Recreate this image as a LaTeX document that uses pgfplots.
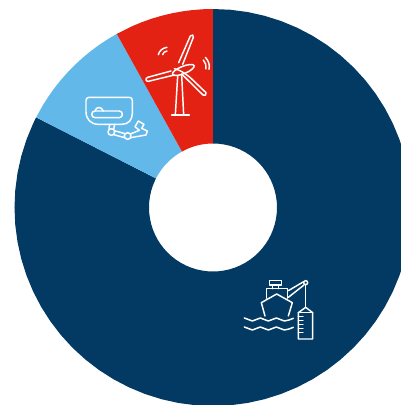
\documentclass[border=0pt]{standalone}
\usepackage{pgfplots}
\pgfplotsset{compat=1.18}
\definecolor{navyseg}{HTML}{033A63}
\definecolor{skyseg}{HTML}{63B8EA}
\definecolor{redseg}{HTML}{E32213}
\begin{document}
\begin{tikzpicture}
\path[use as bounding box] (0,0) rectangle (300.75pt,303.75pt);
\begin{axis}[
  at={(0,0)}, anchor=south west,
  width=300.75pt, height=303.75pt, scale only axis,
  xmin=-213, xmax=188, ymin=-197.5, ymax=207.5,
  hide axis, clip=true,
]
% ring segments given as (angle, radius)
\addplot[fill=navyseg, draw=none, data cs=polar] coordinates {
 (153,198.5)(155,198.5)(160,198.5)(165,198.5)(170,198.5)(175,198.5)(180,198.5)(185,198.5)(190,198.5)(195,198.5)
 (200,198.5)(205,198.5)(210,198.5)(215,198.5)(220,198.5)(225,198.5)(230,198.5)(235,198.5)(240,198.5)(245,198.5)
 (250,198.5)(255,198.5)(260,198.5)(265,198.5)(270,198.5)(275,198.5)(280,198.5)(285,198.5)(290,198.5)(295,198.5)
 (300,198.5)(305,198.5)(310,198.5)(315,198.5)(320,198.5)(325,198.5)(330,198.5)(335,198.5)(340,198.5)(345,198.5)
 (350,198.5)(355,198.5)(360,198.5)(365,198.5)(370,198.5)(375,198.5)(380,198.5)(385,198.5)(390,198.5)(395,198.5)
 (400,198.5)(405,198.5)(410,198.5)(415,198.5)(420,198.5)(425,198.5)(430,198.5)(435,198.5)(440,198.5)(445,198.5)(450,198.5)
 (450,64)(445,64)(440,64)(435,64)(430,64)(425,64)(420,64)(415,64)(410,64)(405,64)(400,64)
 (395,64)(390,64)(385,64)(380,64)(375,64)(370,64)(365,64)(360,64)(355,64)(350,64)
 (345,64)(340,64)(335,64)(330,64)(325,64)(320,64)(315,64)(310,64)(305,64)(300,64)
 (295,64)(290,64)(285,64)(280,64)(275,64)(270,64)(265,64)(260,64)(255,64)(250,64)
 (245,64)(240,64)(235,64)(230,64)(225,64)(220,64)(215,64)(210,64)(205,64)(200,64)
 (195,64)(190,64)(185,64)(180,64)(175,64)(170,64)(165,64)(160,64)(155,64)(153,64)
} -- cycle;
\addplot[fill=skyseg, draw=none, data cs=polar] coordinates {
 (119,198.5)(122,198.5)(125,198.5)(128,198.5)(131,198.5)(134,198.5)(137,198.5)(140,198.5)(143,198.5)(146,198.5)(149,198.5)(153,198.5)
 (153,64)(149,64)(146,64)(143,64)(140,64)(137,64)(134,64)(131,64)(128,64)(125,64)(122,64)(119,64)
} -- cycle;
\addplot[fill=redseg, draw=none, data cs=polar] coordinates {
 (90,198.5)(93,198.5)(96,198.5)(99,198.5)(102,198.5)(105,198.5)(108,198.5)(111,198.5)(114,198.5)(119,198.5)
 (119,64)(114,64)(111,64)(108,64)(105,64)(102,64)(99,64)(96,64)(93,64)(90,64)
} -- cycle;
\end{axis}

% wind turbine
\begin{scope}[shift={(0.75*130pt,303.75pt-0.75*20pt)},x=0.25pt,y=-0.25pt,draw=white,line width=1.1pt,line join=round,line cap=round]
  \draw (146,128) -- (181,48) .. controls (185,42) and (193,45) .. (190,52) -- (158,133);
  \draw (123,153) -- (53,172) .. controls (45,175) and (47,185) .. (55,184) -- (133,165);
  \draw[rotate around={22:(160,150)}] (160,150) ellipse (35 and 11);
  \draw (133,146) .. controls (150,150) and (165,160) .. (180,172) -- (228,218) .. controls (231,225) and (224,229) .. (219,225) -- (155,162);
  \draw (143,168) -- (136,285);
  \draw (155,165) -- (161,285);
  \draw (125,285) -- (178,285);
  \draw (85,104) .. controls (88,92) and (98,84) .. (111,82);
  \draw (98,104) .. controls (99,98) and (104,94) .. (111,93);
  \draw (220,120) .. controls (227,127) and (229,137) .. (228,147);
  \draw (226,112) .. controls (236,122) and (240,135) .. (237,148);
\end{scope}

% remotely operated vehicle
\begin{scope}[shift={(0.75*70pt,303.75pt-0.75*85pt)},x=0.25pt,y=-0.25pt,draw=white,line width=1.1pt,line join=round,line cap=round]
  \draw (57,37) -- (178,37) .. controls (184,37) and (187,41) .. (187,47) -- (187,85)
        .. controls (187,105) and (175,118) .. (155,118) -- (85,118)
        .. controls (62,118) and (48,102) .. (48,80) -- (48,47) .. controls (48,41) and (51,37) .. (57,37) -- cycle;
  \draw (75,78) -- (148,78) .. controls (160,78) and (160,98) .. (148,98) -- (75,98) .. controls (62,98) and (62,78) .. (75,78) -- cycle;
  \draw (75,78) .. controls (78,64) and (95,64) .. (100,78);
  \draw (119,118) -- (117,131);
  \draw (134,118) -- (131,133);
  \draw (124,141) circle (10);
  \draw (173,153) circle (10);
  \draw (133,137) -- (165,146);
  \draw (131,149) -- (164,158);
  \draw (181,147) -- (208,136);
  \draw (182,158) -- (228,150) -- (232,138) -- (215,130) -- (222,118) -- (205,108) -- (195,125) -- (208,136);
\end{scope}

% survey vessel with crane and buoy
\begin{scope}[shift={(0.75*235pt,303.75pt-0.75*270pt)},x=0.25pt,y=-0.25pt,draw=white,line width=1.1pt,line join=round,line cap=round]
  \draw (103,31) rectangle (140,45);
  \draw (113,45) -- (113,56); \draw (130,45) -- (130,56);
  \draw (94,85) -- (94,56) -- (157,56) -- (157,85);
  \draw (90,138) -- (79,98) -- (125,72) -- (172,98) -- (160,138);
  \draw (160,62) -- (206,35);
  \draw (160,82) -- (207,45);
  \draw (212,38) circle (6);
  \draw (212,44) -- (212,112);
  \draw (190,128) -- (212,112) -- (233,128) -- (233,207) -- (190,207) -- cycle;
  \draw (190,128) -- (233,128);
  \foreach \yy in {140,152,164,176,188}{ \draw (190,\yy) -- (204,\yy); }
  \foreach \yy in {148,175}{
    \draw (28,\yy-4) .. controls (38,\yy-4) and (42,\yy+5) .. (52,\yy+5)
          .. controls (62,\yy+5) and (66,\yy-4) .. (76,\yy-4)
          .. controls (86,\yy-4) and (90,\yy+5) .. (100,\yy+5)
          .. controls (110,\yy+5) and (114,\yy-4) .. (124,\yy-4)
          .. controls (134,\yy-4) and (138,\yy+5) .. (148,\yy+5)
          .. controls (158,\yy+5) and (165,\yy) .. (175,\yy-3);
  }
\end{scope}
\end{tikzpicture}
\end{document}
